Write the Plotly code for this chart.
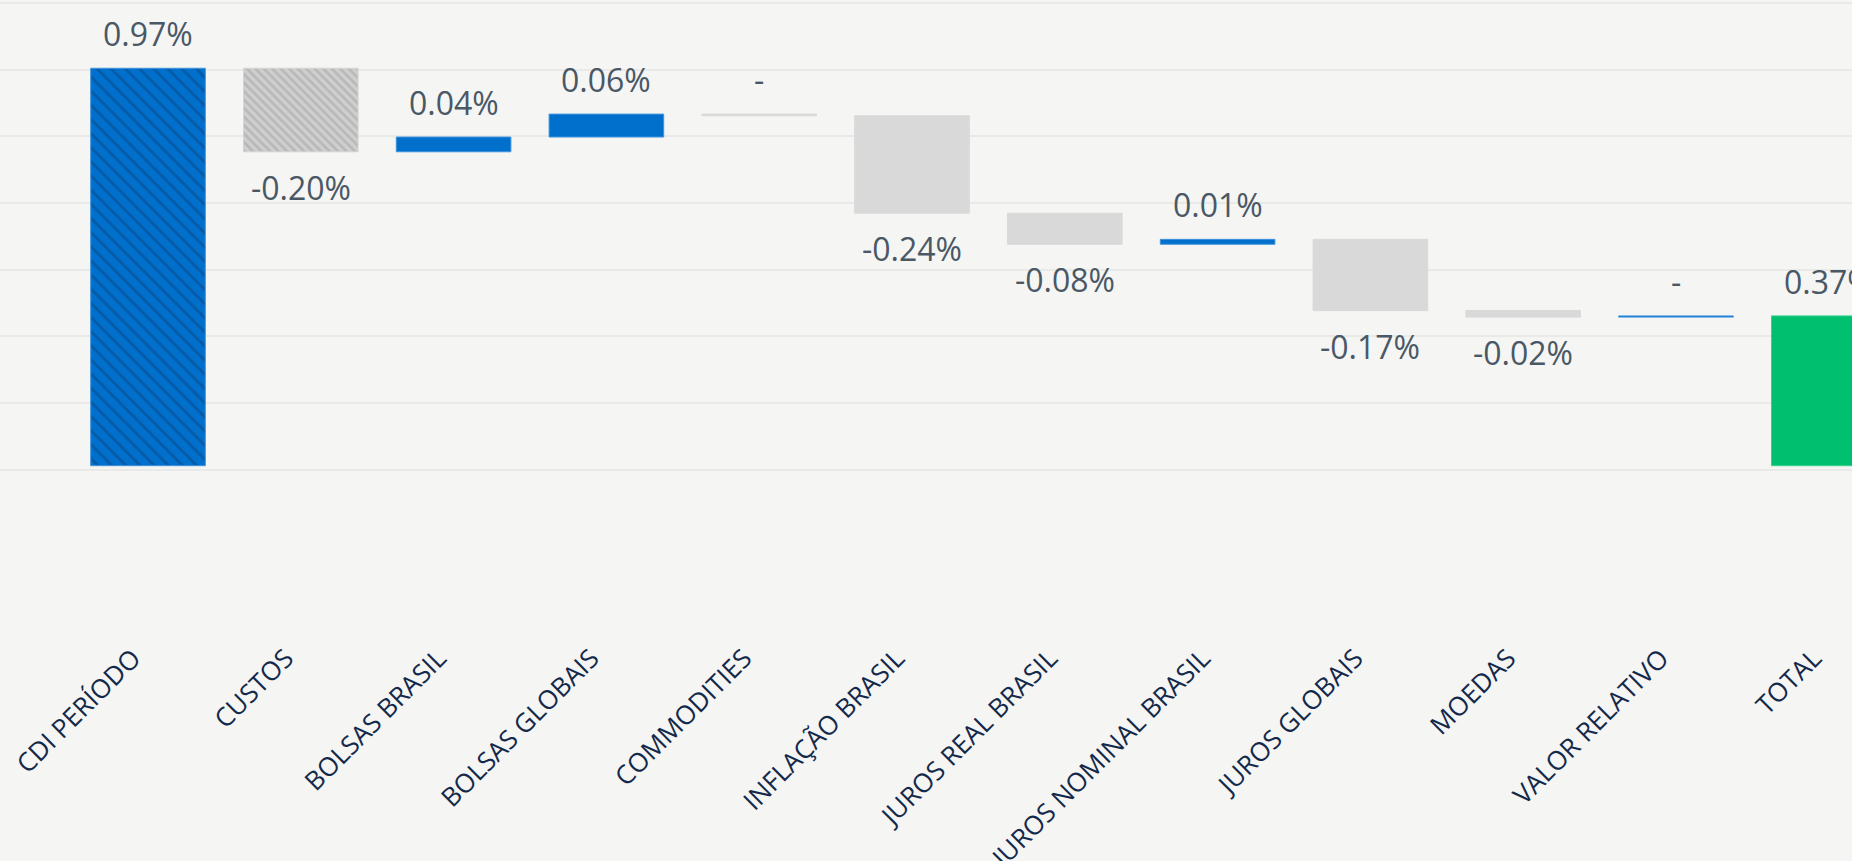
import plotly.graph_objects as go

# ---------------- data ----------------
categories = ["CDI PERÍODO", "CUSTOS", "BOLSAS BRASIL", "BOLSAS GLOBAIS", "COMMODITIES",
              "INFLAÇÃO BRASIL", "JUROS REAL BRASIL", "JUROS NOMINAL BRASIL",
              "JUROS GLOBAIS", "MOEDAS", "VALOR RELATIVO"]
total_category = "TOTAL"
contributions = [0.971, -0.204, 0.036, 0.056, -0.004, -0.238, -0.076, 0.012, -0.174, -0.016, 0.003]
hatched_categories = ["CDI PERÍODO", "CUSTOS"]

# ---------------- styles ----------------
BG = "#f5f5f3"
GRID = "#e9e9e7"
BLUE = "#0070cc"
BLUE_LINE = "#3f93de"
BLUE_DARK = "#0a4a8c"
GRAY = "#d9d9d9"
GRAY_HATCH_BG = "#cfcfcf"
GRAY_HATCH_FG = "#b8b8b8"
GREEN = "#00bf6f"
LABEL_COLOR = "#4a5866"
TICK_COLOR = "#13294b"
FONT = "Open Sans"

W, H = 1852, 861

fig = go.Figure()

running = 0.0
bars = []
for cat, v in zip(categories, contributions):
    bars.append((cat, running, v, v))
    running += v
bars.append((total_category, 0.0, running, running))

for cat, base, h, v in bars:
    pos = v >= 0
    if cat == total_category:
        marker = dict(color=GREEN, line=dict(color="#38cf8c", width=1))
    elif cat in hatched_categories:
        if pos:
            marker = dict(color=BLUE, line=dict(color=BLUE_LINE, width=1),
                          pattern=dict(shape="\\", fgcolor=BLUE_DARK, fgopacity=0.6,
                                       size=10, solidity=0.28, fillmode="overlay"))
        else:
            marker = dict(color=GRAY_HATCH_BG, line=dict(color="#d4d4d4", width=1),
                          pattern=dict(shape="\\", fgcolor=GRAY_HATCH_FG, fgopacity=1,
                                       size=6, solidity=0.45, fillmode="overlay"))
    else:
        c = BLUE if pos else GRAY
        marker = dict(color=c, line=dict(color=BLUE_LINE if pos else GRAY, width=1))
    fig.add_trace(go.Bar(x=[cat], y=[h], base=[base], width=0.75, marker=marker,
                         hoverinfo="skip", showlegend=False))

def fmt(v):
    if abs(v) < 0.005:
        return "-"
    return f"{v:.2f}%"

for cat, base, h, v in bars:
    label = fmt(v)
    above = round(v, 2) >= 0
    top, bot = max(base, base + h), min(base, base + h)
    fig.add_annotation(
        x=cat, y=top if above else bot, xref="x", yref="y",
        text=label, showarrow=False,
        yanchor="bottom" if above else "top",
        yshift=11 if above else -12,
        font=dict(family=FONT, size=32, color=LABEL_COLOR),
    )

# layout geometry (pixels)
x0_px, step_px = 148.0, 152.8
zero_px, px_per_unit = 465.7, 409.3
plot_bottom_px = 632.0
x_range = [-x0_px / step_px, (W - x0_px) / step_px]
y_range = [-(plot_bottom_px - zero_px) / px_per_unit, zero_px / px_per_unit]
grid_vals = [-0.01 + 0.163 * k for k in range(8)]

fig.update_layout(
    width=W, height=H, autosize=False,
    margin=dict(l=0, r=0, t=0, b=H - plot_bottom_px, pad=0, autoexpand=False),
    paper_bgcolor=BG, plot_bgcolor=BG,
    barmode="overlay",
    font=dict(family=FONT),
    xaxis=dict(range=x_range, showgrid=False, zeroline=False, showline=False,
               automargin=False,
               ticks="", tickangle=-45, ticklabelstandoff=5, ticklabelshift=-15,
               tickfont=dict(family=FONT, size=26, color=TICK_COLOR),
               fixedrange=True),
    yaxis=dict(range=y_range, tickmode="array", tickvals=grid_vals, automargin=False,
               showticklabels=False, showgrid=True, gridcolor=GRID, gridwidth=1.5,
               zeroline=False, showline=False, ticks="", fixedrange=True),
)

fig.write_html(
    "out.html",
    config={"displayModeBar": False},
    post_script="document.body.style.margin='0';document.body.style.overflow='hidden';"
                "document.body.style.background='%s';" % BG,
)
